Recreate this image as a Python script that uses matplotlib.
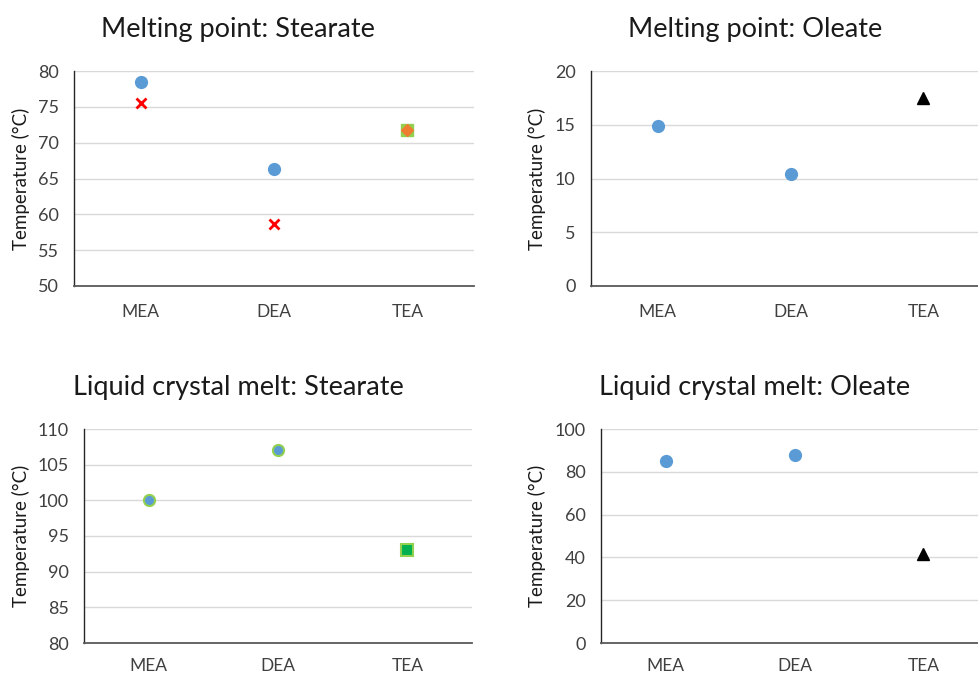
import matplotlib.pyplot as plt
import numpy as np

plt.rcParams['font.family'] = ['Lato', 'DejaVu Sans']

# categories on the x axis
categories = ['MEA', 'DEA', 'TEA']

# Melting point: Stearate
mp_st_circle = [78.5, 66.3, np.nan]
mp_st_cross = [75.6, 58.6, np.nan]
mp_st_square = [np.nan, np.nan, 71.8]
mp_st_diamond = [np.nan, np.nan, 71.8]

# Melting point: Oleate
mp_ol_circle = [14.9, 10.4, np.nan]
mp_ol_triangle = [np.nan, np.nan, 17.5]

# Liquid crystal melt: Stearate
lc_st_circle = [100.0, 107.0, np.nan]
lc_st_square = [np.nan, np.nan, 93.0]

# Liquid crystal melt: Oleate
lc_ol_circle = [85.0, 88.0, np.nan]
lc_ol_triangle = [np.nan, np.nan, 41.6]

titles = ['Melting point: Stearate', 'Melting point: Oleate',
          'Liquid crystal melt: Stearate', 'Liquid crystal melt: Oleate']
y_ticks = [np.arange(50, 81, 5), np.arange(0, 21, 5),
           np.arange(80, 111, 5), np.arange(0, 101, 20)]

blue = '#5B9BD5'
lime = '#92D050'
W, H = 979, 675
fig = plt.figure(figsize=(W / 100, H / 100), dpi=100)

# axes boxes in pixels: left, top, right, bottom
boxes = [(74, 71, 474, 286), (591, 71, 990, 286),
         (84, 429, 472, 643), (601, 429, 988, 643)]
title_pos = [(238, 29), (755, 29), (238, 387), (755, 387)]
ylab_x = [21, 537, 21, 537]
xpad = [13, 13, 11, 11]

axes = []
for i, (l, t, r, b) in enumerate(boxes):
    ax = fig.add_axes([l / W, 1 - b / H, (r - l) / W, (b - t) / H])
    ax.set_xlim(-0.5, 2.5)
    ax.set_ylim(y_ticks[i][0], y_ticks[i][-1])
    ax.set_yticks(y_ticks[i])
    ax.set_xticks(range(3))
    ax.set_xticklabels(categories)
    ax.grid(axis='y', color='#D9D9D9', linewidth=1)
    ax.set_axisbelow(True)
    for s in ['top', 'right']:
        ax.spines[s].set_visible(False)
    ax.spines['left'].set_color('#262626')
    ax.spines['bottom'].set_color('#595959')
    ax.spines['left'].set_linewidth(1)
    ax.spines['bottom'].set_linewidth(1.3)
    ax.tick_params(length=0, labelcolor='#404040')
    ax.tick_params(axis='y', labelsize=13, pad=11)
    ax.tick_params(axis='x', labelsize=12.5, pad=xpad[i])
    fig.text(title_pos[i][0] / W, 1 - title_pos[i][1] / H, titles[i],
             ha='center', va='center', fontsize=19.5, color='#1a1a1a')
    fig.text(ylab_x[i] / W, 1 - ((t + b) / 2) / H, 'Temperature (°C)',
             rotation=90, ha='center', va='center', fontsize=13.5, color='#1a1a1a')
    axes.append(ax)

x = np.arange(3)
ax = axes[0]
ax.plot(x, mp_st_circle, 'o', color=blue, markersize=8.5, zorder=3)
ax.plot(x, mp_st_cross, 'x', color='#FF0000', markersize=7, mew=2, zorder=3)
ax.plot(x, mp_st_square, 's', color=lime, markersize=8.5, zorder=3)
ax.plot(x, mp_st_diamond, 'D', color='#ED7D31', markersize=6, zorder=4)

ax = axes[1]
ax.plot(x, mp_ol_circle, 'o', color=blue, markersize=8.5, zorder=3)
ax.plot(x, mp_ol_triangle, '^', color='black', markersize=8, zorder=3)

ax = axes[2]
ax.plot(x, lc_st_circle, 'o', color=blue, mec=lime, mew=1.5, markersize=8, zorder=3)
ax.plot(x, lc_st_square, 's', color='#00B050', mec=lime, mew=1.5, markersize=8, zorder=3)

ax = axes[3]
ax.plot(x, lc_ol_circle, 'o', color=blue, markersize=8.5, zorder=3)
ax.plot(x, lc_ol_triangle, '^', color='black', markersize=8, zorder=3)

fig.savefig('out.png', dpi=100)
